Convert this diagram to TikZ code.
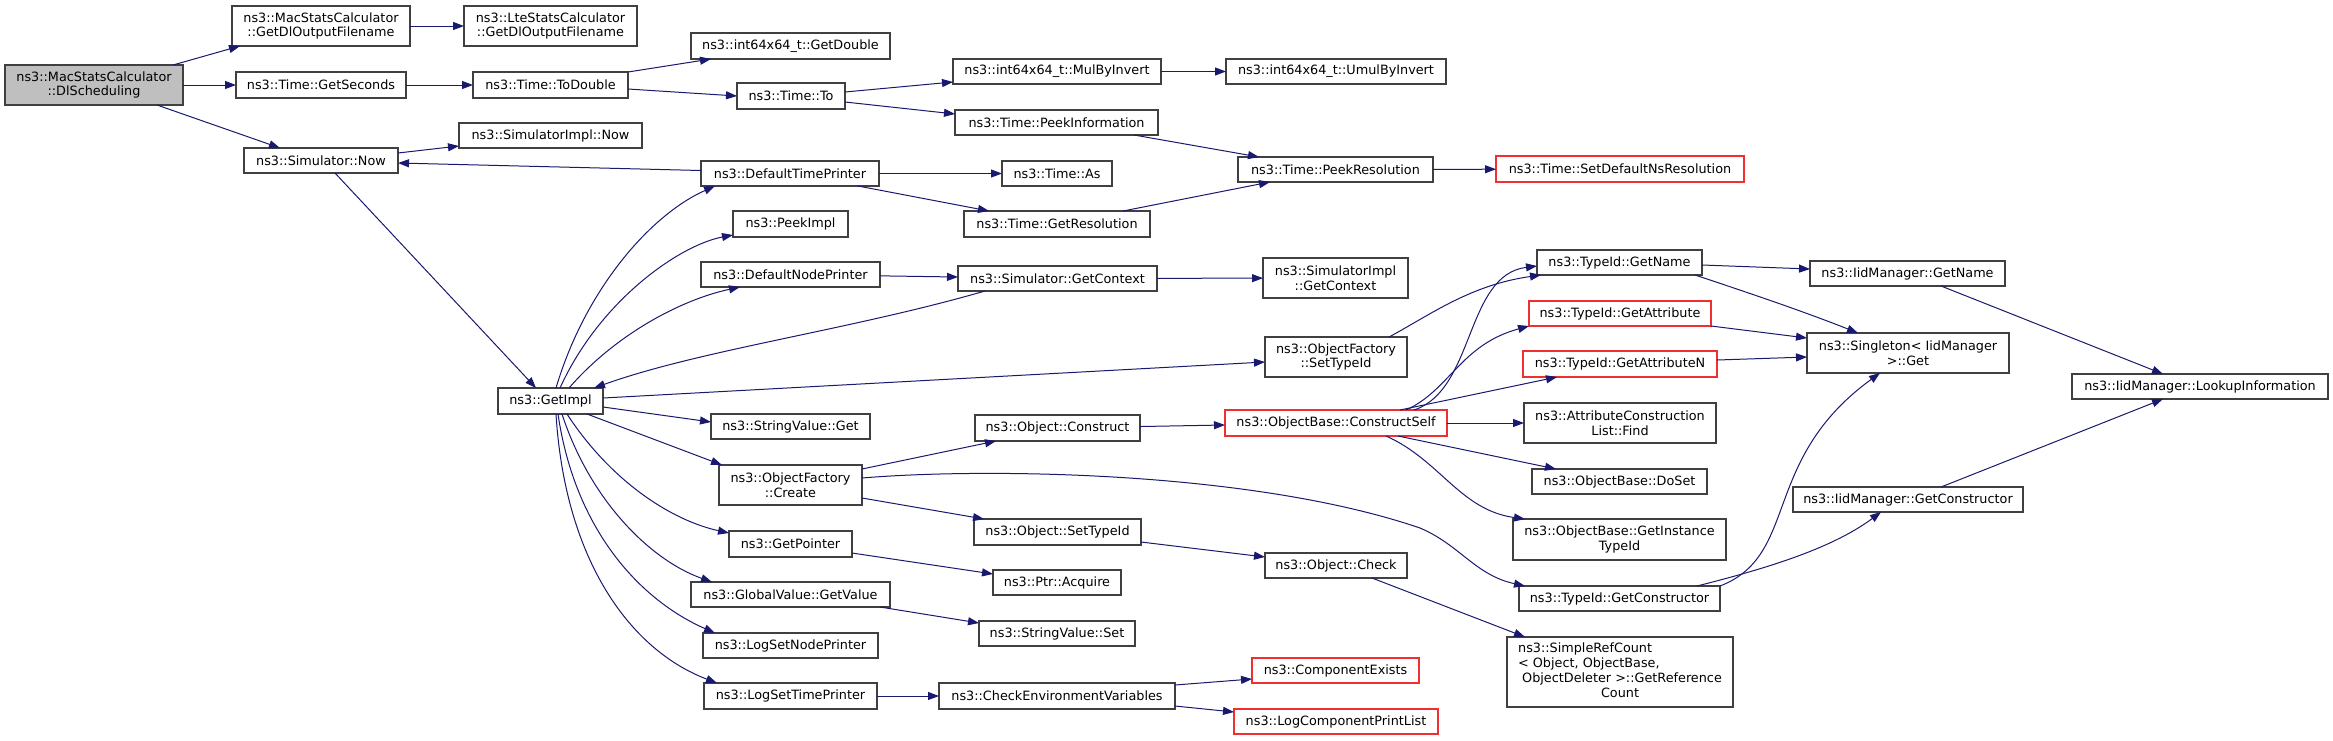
\documentclass[tikz,border=0pt]{standalone}
\usepackage{fontspec}
\setmainfont{DejaVu Sans}
\usetikzlibrary{arrows.meta,calc}
\definecolor{edgec}{HTML}{191970}
\definecolor{boxc}{HTML}{404040}
\definecolor{rootc}{HTML}{BFBFBF}
\definecolor{redc}{HTML}{F03030}
\tikzset{
  box/.style={draw=boxc, line width=1.1pt, fill=white, inner sep=0pt, outer sep=0pt, align=center,
    font=\fontsize{12.8}{14.7}\selectfont},
  rootbox/.style={fill=rootc},
  redbox/.style={draw=redc},
  edge/.style={draw=edgec, line width=1pt, -{Triangle[length=11pt,width=8pt]}},
}
\newcommand\bx[7][]{%
  \node[box,#1,minimum width={(#5-#3)*1pt},minimum height={(#6-#4)*1pt}] (#2) at ({(#3+#5)/2},{(#4+#6)/2}) {#7};}
\begin{document}
\begin{tikzpicture}[x=1pt,y=-1pt]
\fill[white] (0,0) rectangle (2333,740);
\useasboundingbox (0,0) rectangle (2333,740);
% nodes
\bx[rootbox]{dl}{5}{65}{183}{105}{ns3::MacStatsCalculator\\::DlScheduling}
\bx{mac}{232}{6}{410}{46}{ns3::MacStatsCalculator\\::GetDlOutputFilename}
\bx{lte}{464}{6}{637}{46}{ns3::LteStatsCalculator\\::GetDlOutputFilename}
\bx{gs}{236}{72}{406}{98}{ns3::Time::GetSeconds}
\bx{td}{473}{72}{628}{98}{ns3::Time::ToDouble}
\bx{gd}{691}{33}{890}{59}{ns3::int64x64\_t::GetDouble}
\bx{to}{737}{83}{845}{109}{ns3::Time::To}
\bx{mul}{953}{59}{1161}{84}{ns3::int64x64\_t::MulByInvert}
\bx{umul}{1226}{59}{1446}{84}{ns3::int64x64\_t::UmulByInvert}
\bx{pi}{955}{110}{1158}{135}{ns3::Time::PeekInformation}
\bx{pr}{1238}{157}{1433}{182}{ns3::Time::PeekResolution}
\bx[redbox]{sdr}{1496}{156}{1744}{182}{ns3::Time::SetDefaultNsResolution}
\bx{now}{244}{148}{398}{173}{ns3::Simulator::Now}
\bx{sin}{459}{123}{642}{148}{ns3::SimulatorImpl::Now}
\bx{dtp}{701}{161}{879}{186}{ns3::DefaultTimePrinter}
\bx{as}{1002}{161}{1112}{186}{ns3::Time::As}
\bx{gr}{964}{211}{1150}{237}{ns3::Time::GetResolution}
\bx{pk}{733}{211}{848}{237}{ns3::PeekImpl}
\bx{dnp}{701}{262}{880}{287}{ns3::DefaultNodePrinter}
\bx{gc}{958}{266}{1157}{291}{ns3::Simulator::GetContext}
\bx{sgc}{1263}{258}{1408}{298}{ns3::SimulatorImpl\\::GetContext}
\bx{ofs}{1265}{337}{1407}{377}{ns3::ObjectFactory\\::SetTypeId}
\bx{gi}{498}{388}{603}{414}{ns3::GetImpl}
\bx{svg}{711}{414}{870}{439}{ns3::StringValue::Get}
\bx{oc}{975}{415}{1140}{441}{ns3::Object::Construct}
\bx[redbox]{cs}{1225}{410}{1447}{436}{ns3::ObjectBase::ConstructSelf}
\bx{tgn}{1537}{250}{1702}{275}{ns3::TypeId::GetName}
\bx[redbox]{ga}{1529}{301}{1711}{326}{ns3::TypeId::GetAttribute}
\bx[redbox]{gan}{1523}{351}{1717}{377}{ns3::TypeId::GetAttributeN}
\bx{lf}{1524}{403}{1716}{443}{ns3::AttributeConstruction\\List::Find}
\bx{ign}{1810}{261}{2005}{286}{ns3::IidManager::GetName}
\bx{sg}{1807}{333}{2009}{373}{ns3::Singleton< IidManager\\ >::Get}
\bx{li}{2072}{374}{2328}{399}{ns3::IidManager::LookupInformation}
\bx{cr}{719}{465}{862}{505}{ns3::ObjectFactory\\::Create}
\bx{ost}{974}{519}{1141}{545}{ns3::Object::SetTypeId}
\bx{ock}{1265}{553}{1407}{578}{ns3::Object::Check}
\bx{gp}{729}{531}{852}{557}{ns3::GetPointer}
\bx{acq}{993}{570}{1121}{595}{ns3::Ptr::Acquire}
\bx{gv}{691}{582}{890}{607}{ns3::GlobalValue::GetValue}
\bx{svs}{979}{621}{1135}{646}{ns3::StringValue::Set}
\bx{lsn}{703}{633}{878}{658}{ns3::LogSetNodePrinter}
\bx{lst}{704}{683}{877}{709}{ns3::LogSetTimePrinter}
\bx{cev}{939}{683}{1175}{709}{ns3::CheckEnvironmentVariables}
\bx[redbox]{cex}{1252}{658}{1419}{683}{ns3::ComponentExists}
\bx[redbox]{lcpl}{1234}{709}{1438}{734}{ns3::LogComponentPrintList}
\bx{ds}{1532}{469}{1707}{494}{ns3::ObjectBase::DoSet}
\bx{git}{1513}{519}{1726}{560}{ns3::ObjectBase::GetInstance\\TypeId}
\bx{tgc}{1519}{586}{1720}{611}{ns3::TypeId::GetConstructor}
\bx{src}{1507}{637}{1733}{707}{\begin{tabular}{@{}l@{}}ns3::SimpleRefCount\\< Object, ObjectBase,\\\multicolumn{1}{@{}c@{}}{\ ObjectDeleter >::GetReference}\\\multicolumn{1}{@{}c@{}}{Count}\end{tabular}}
\bx{igc}{1793}{487}{2023}{512}{ns3::IidManager::GetConstructor}
% edges
\draw[edge] ([xshift=-10pt]dl.north east) -- ([xshift=8pt]mac.south west);
\draw[edge] (dl) -- (gs);
\draw[edge] ([xshift=-26pt]dl.south east) -- ([xshift=36pt]now.north west);
\draw[edge] (mac) -- (lte);
\draw[edge] (gs) -- (td);
\draw[edge] (td.north east) -- ([xshift=20pt]gd.south west);
\draw[edge] ([yshift=-4pt]td.east) -- (to.west);
\draw[edge] ([yshift=4pt]to.east) -- ([yshift=2pt]mul.south west);
\draw[edge] ([yshift=-6pt]to.east) -- ([yshift=-4pt]pi.north west);
\draw[edge] (mul) -- (umul);
\draw[edge] ([xshift=-24pt]pi.south east) -- ([xshift=21pt]pr.north west);
\draw[edge] (pr) -- (sdr);
\draw[edge] ([xshift=-27pt]gr.north east) -- ([xshift=32pt]pr.south west);
\draw[edge] (dtp) -- (as);
\draw[edge] ([xshift=-21pt]dtp.south east) -- ([xshift=25pt]gr.north west);
\draw[edge] ([yshift=3pt]dtp.west) -- ([yshift=-2.5pt]now.east);
\draw[edge] ([yshift=-5pt]now.north east) -- ([yshift=2pt]sin.south west);
\draw[edge] ([xshift=14pt]now.south) -- ([xshift=38pt]gi.north west);
\draw[edge] ([xshift=58pt]gi.north west) .. controls (585,290) and (650,215) .. ([xshift=14pt]dtp.south west);
\draw[edge] ([xshift=62pt]gi.north west) .. controls (600,300) and (680,245) .. ([yshift=2pt]pk.south west);
\draw[edge] ([xshift=71pt]gi.north west) .. controls (615,335) and (680,300) .. ([xshift=39pt]dnp.south west);
\draw[edge] ([xshift=27pt]gc.south west) .. controls (850,330) and (700,350) .. ([xshift=-9pt]gi.north east);
\draw[edge] (gc) -- (sgc);
\draw[edge] (dnp) -- (gc);
\draw[edge] ([yshift=-10pt]gi.north east) -- ([yshift=-25pt]ofs.north west);
\draw[edge] ([yshift=-19pt]gi.north east) -- ([yshift=4.5pt]svg.west);
\draw[edge] ([xshift=89pt]gi.south west) -- ([xshift=3pt]cr.north west);
\draw[edge] ([xshift=69pt]gi.south west) .. controls (610,480) and (670,520) .. ([yshift=-2pt]gp.north west);
\draw[edge] ([xshift=64pt]gi.south west) .. controls (590,500) and (650,560) .. ([xshift=21pt]gv.north west);
\draw[edge] ([xshift=60pt]gi.south west) .. controls (575,530) and (640,600) .. ([xshift=12pt]lsn.north west);
\draw[edge] ([xshift=58pt]gi.south west) .. controls (565,560) and (630,650) .. ([xshift=13pt]lst.north west);
\draw[edge] ([yshift=-4pt]cr.north east) -- ([xshift=21pt]oc.south west);
\draw[edge] ([yshift=7pt]cr.south east) -- ([xshift=10pt]ost.north west);
\draw[edge] ([yshift=-13pt]cr.north east) .. controls (980,468) and (1250,470) .. (1420,528) .. controls (1460,545) and (1475,575) .. ([xshift=6pt]tgc.north west);
\draw[edge] (oc) -- (cs);
\draw[edge] ([yshift=-10pt]ost.east) -- ([yshift=-4pt]ock.north west);
\draw[edge] ([xshift=-35pt]ock.south east) -- ([xshift=18pt]src.north west);
\draw[edge] ([yshift=4pt]gp.south east) -- ([yshift=-4pt]acq.north west);
\draw[edge] ([xshift=-10pt]gv.south east) -- ([yshift=-2pt]svs.north west);
\draw[edge] (lst) -- (cev);
\draw[edge] ([yshift=-2pt]cev.north east) -- ([yshift=4pt]cex.south west);
\draw[edge] ([yshift=3pt]cev.south east) -- ([yshift=-3pt]lcpl.north west);
\draw[edge] ([xshift=-18pt]ofs.north east) .. controls (1430,315) and (1470,285) .. ([xshift=4pt]tgn.south west);
\draw[edge] ([xshift=-33pt]cs.north east) .. controls (1475,390) and (1465,275) .. ([yshift=-16pt]tgn.north west);
\draw[edge] ([xshift=-41pt]cs.north east) .. controls (1450,390) and (1460,345) .. (ga.south west);
\draw[edge] ([xshift=-47pt]cs.north east) -- ([xshift=34pt]gan.south west);
\draw[edge] (cs) -- (lf);
\draw[edge] ([xshift=-49pt]cs.south east) -- ([xshift=24pt]ds.north west);
\draw[edge] ([xshift=-61pt]cs.south east) .. controls (1440,460) and (1460,510) .. ([xshift=12pt]git.north west);
\draw[edge] ([yshift=-2.5pt]tgn.east) -- ([yshift=4.5pt]ign.west);
\draw[edge] ([xshift=-7pt]tgn.south east) .. controls (1740,290) and (1800,310) .. ([xshift=51pt]sg.north west);
\draw[edge] (ga.south east) -- ([yshift=-5pt]sg.north west);
\draw[edge] ([yshift=4pt]gan.east) -- ([yshift=-4pt]sg.west);
\draw[edge] ([xshift=131pt]ign.south west) -- ([xshift=91pt]li.north west);
\draw[edge] ([xshift=-82pt]igc.north east) -- ([xshift=91pt]li.south west);
\draw[edge] ([xshift=-23pt]tgc.north east) .. controls (1760,570) and (1830,550) .. ([xshift=88pt]igc.south west);
\draw[edge] (tgc.north east) .. controls (1800,555) and (1760,460) .. ([xshift=73pt]sg.south west);
\end{tikzpicture}
\end{document}
